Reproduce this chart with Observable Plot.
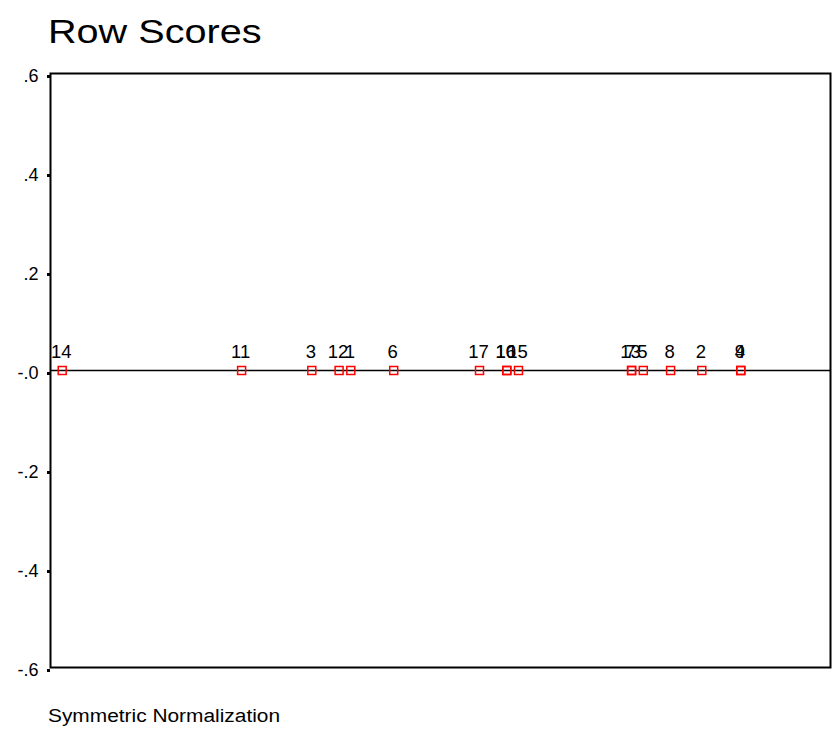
<!DOCTYPE html>
<html>
<head>
<meta charset="utf-8">
<script src="https://cdn.jsdelivr.net/npm/d3@7"></script>
<script src="https://cdn.jsdelivr.net/npm/@observablehq/plot@0.6"></script>
<style>
  html, body { margin: 0; padding: 0; background: #fff; }
  body { width: 837px; height: 733px; overflow: hidden; font-family: "Liberation Sans", Arial, sans-serif; color: #000; }
  #title { height: 60px; position: relative; }
  #title span { position: absolute; left: 48px; top: 13px; font-size: 33px; line-height: 38px; display: inline-block; transform: scaleX(1.2); transform-origin: left center; white-space: nowrap; }
  #chart svg { display: block; }
  #footer { position: relative; height: 33px; }
  #footer span { position: absolute; left: 48px; top: 6px; font-size: 18px; line-height: 21px; display: inline-block; transform: scaleX(1.16); transform-origin: left center; white-space: nowrap; }
</style>
</head>
<body>
<div id="title"><span>Row Scores</span></div>
<div id="chart"></div>
<div id="footer"><span>Symmetric Normalization</span></div>
<script>
// Row labels and their (dimension 1) scores
const rowLabels = ["14", "11", "3", "12", "1", "6", "17", "10", "16", "15", "13", "7", "5", "8", "2", "4", "9"];
const rowScoresX = [-0.97, -0.51, -0.33, -0.26, -0.23, -0.12, 0.10, 0.17, 0.17, 0.20, 0.49, 0.49, 0.52, 0.59, 0.67, 0.77, 0.77];
const rowScoresY = [0, 0, 0, 0, 0, 0, 0, 0, 0, 0, 0, 0, 0, 0, 0, 0, 0];

// y axis ticks
const yTickValues = [0.6, 0.4, 0.2, 0, -0.2, -0.4, -0.6];
const yTickLabels = [".6", ".4", ".2", "-.0", "-.2", "-.4", "-.6"];

const points = rowLabels.map((label, i) => ({label, x: rowScoresX[i], y: rowScoresY[i]}));
const tickText = new Map(yTickValues.map((v, i) => [v, yTickLabels[i]]));

const chart = Plot.plot({
  width: 837,
  height: 640,
  marginLeft: 50,
  marginRight: 7,
  marginTop: 13,
  marginBottom: 33,
  style: {fontFamily: '"Liberation Sans", Arial, sans-serif', color: "#000", background: "#fff"},
  x: {domain: [-1, 1], axis: null},
  y: {domain: [-0.6, 0.6], axis: null},
  marks: [
    Plot.frame({stroke: "#000", strokeWidth: 2}),
    Plot.ruleY([0], {stroke: "#000", strokeWidth: 1.5}),
    Plot.axisY({
      ticks: yTickValues,
      tickFormat: v => tickText.get(v),
      label: null,
      tickSize: 3,
      tickPadding: 9,
      strokeWidth: 3,
      stroke: "#000",
      fill: "#000",
      fontSize: 18,
      dy: 3
    }),
    Plot.dot(points, {x: "x", y: "y", symbol: "square", r: 4.5, stroke: "#ff0000", strokeWidth: 1.5, fill: "none"}),
    Plot.text(points, {x: "x", y: "y", text: "label", dx: -1, dy: -13, lineAnchor: "bottom", fontSize: 18.5, fill: "#000"})
  ]
});
chart.querySelectorAll("g[aria-label='text'] text").forEach(t => t.setAttribute("font-size", "18.5"));
document.getElementById("chart").appendChild(chart);
</script>
</body>
</html>
